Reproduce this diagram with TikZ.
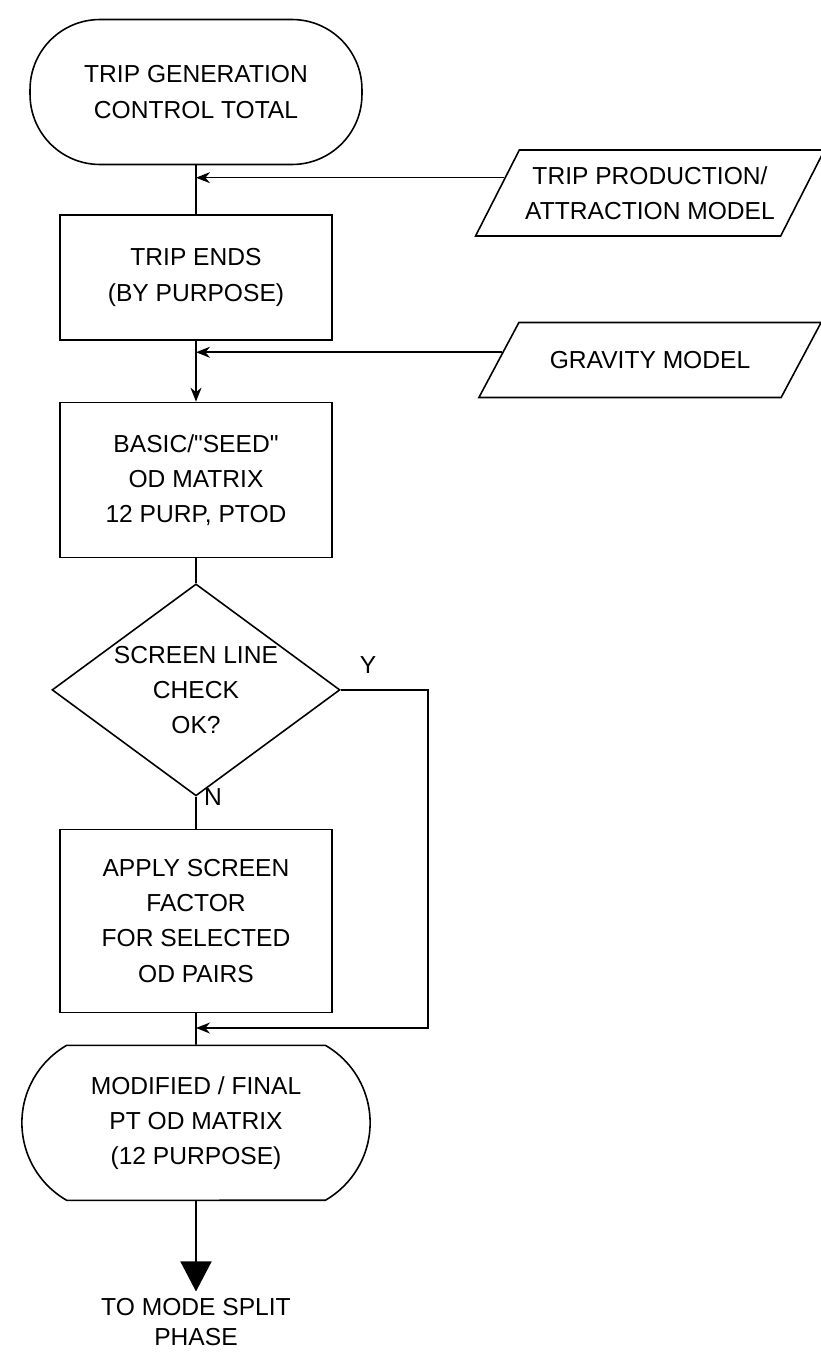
\documentclass[tikz,border=0pt]{standalone}
\usepackage{fontspec}
\setmainfont{Liberation Sans}
\usetikzlibrary{shapes.geometric, shapes.misc, arrows, arrows.meta}

\tikzstyle{startstop} = [
    rectangle,
    rounded corners=1.4cm,
    minimum width=6.64cm,
    minimum height=2.9cm,
    draw=black
]
\tikzstyle{endstop} = [
    rounded rectangle,
    rounded rectangle arc length=120,
    minimum width=7.2cm,
    minimum height=3.1cm,
    draw=black
]
\tikzstyle{inputoutput} = [
    trapezium,
    trapezium left angle=56,
    trapezium right angle=124,
    trapezium stretches=true,
    minimum width=6.86cm,
    minimum height=1.72cm,
    draw=black
]
\tikzstyle{process} = [
    rectangle,
    minimum width=5.44cm,
    minimum height=2.5cm,
    draw=black
]
\tikzstyle{decision} = [
    diamond,
    aspect=1.36,
    minimum width=5.76cm,
    minimum height=4.24cm,
    inner sep=0pt,
    draw=black
]
\tikzstyle{arrow} = [->,>={Stealth[length=0.28cm,width=0.22cm]}]
\tikzstyle{line} = [-]
\tikzstyle{bigarrow} = [-{Triangle[width=0.62cm,length=0.6cm]}]

\begin{document}
\begin{tikzpicture}[x=0.02cm, y=-0.02cm, line width=0.9pt,
    font=\fontsize{14}{20}\selectfont,
    every node/.append style={align=center}]

\useasboundingbox (0,0) rectangle (821,1352);

\node (start) [startstop] at (196,92)
{TRIP GENERATION\\CONTROL TOTAL};

\node (ends) [process, below of=start, node distance=3.71cm]
{TRIP ENDS\\(BY PURPOSE)};

\node (seed) [process, below of=ends, node distance=4.05cm, minimum height=3.1cm]
{BASIC/\textquotedbl SEED\textquotedbl\\OD MATRIX\\12 PURP, PTOD};

\node (check) [decision, below of=seed, node distance=4.2cm]
{SCREEN LINE\\CHECK\\OK?};

\node (apply) [process, below of=check, node distance=4.62cm, minimum height=3.66cm]
{APPLY SCREEN\\FACTOR\\FOR SELECTED\\OD PAIRS};

\node (final) [endstop, below of=apply, node distance=4.04cm]
{MODIFIED / FINAL\\PT OD MATRIX\\(12 PURPOSE)};

\node (out) [below of=final, node distance=3.98cm, font=\fontsize{14}{17}\selectfont]
{TO MODE SPLIT\\PHASE};

\node (prod) [inputoutput] at (650,193)
{TRIP PRODUCTION/\\ATTRACTION MODEL};

\node (grav) [inputoutput, trapezium left angle=42, trapezium right angle=138,
    minimum height=1.5cm] at (650,360)
{GRAVITY MODEL};

\node (yes) at (368,665) {Y};
\node (no) at (213,797) {N};

\coordinate (merge) at (196,1028);

\draw [line] (start) -- (ends);
\draw [arrow] (prod.174) -- (prod.174 -| start.south);
\draw [arrow] (ends) -- (seed);
\draw [arrow] (grav.177) -- (grav.177 -| ends.south);
\draw [line] (seed) -- (check);
\draw [line] (check) -- (apply);
\draw [line] (apply) -- (final);
\draw [arrow] (check.east) -- ++(87,0) |- (merge);
\draw [bigarrow] (final) -- (out);

\end{tikzpicture}
\end{document}
